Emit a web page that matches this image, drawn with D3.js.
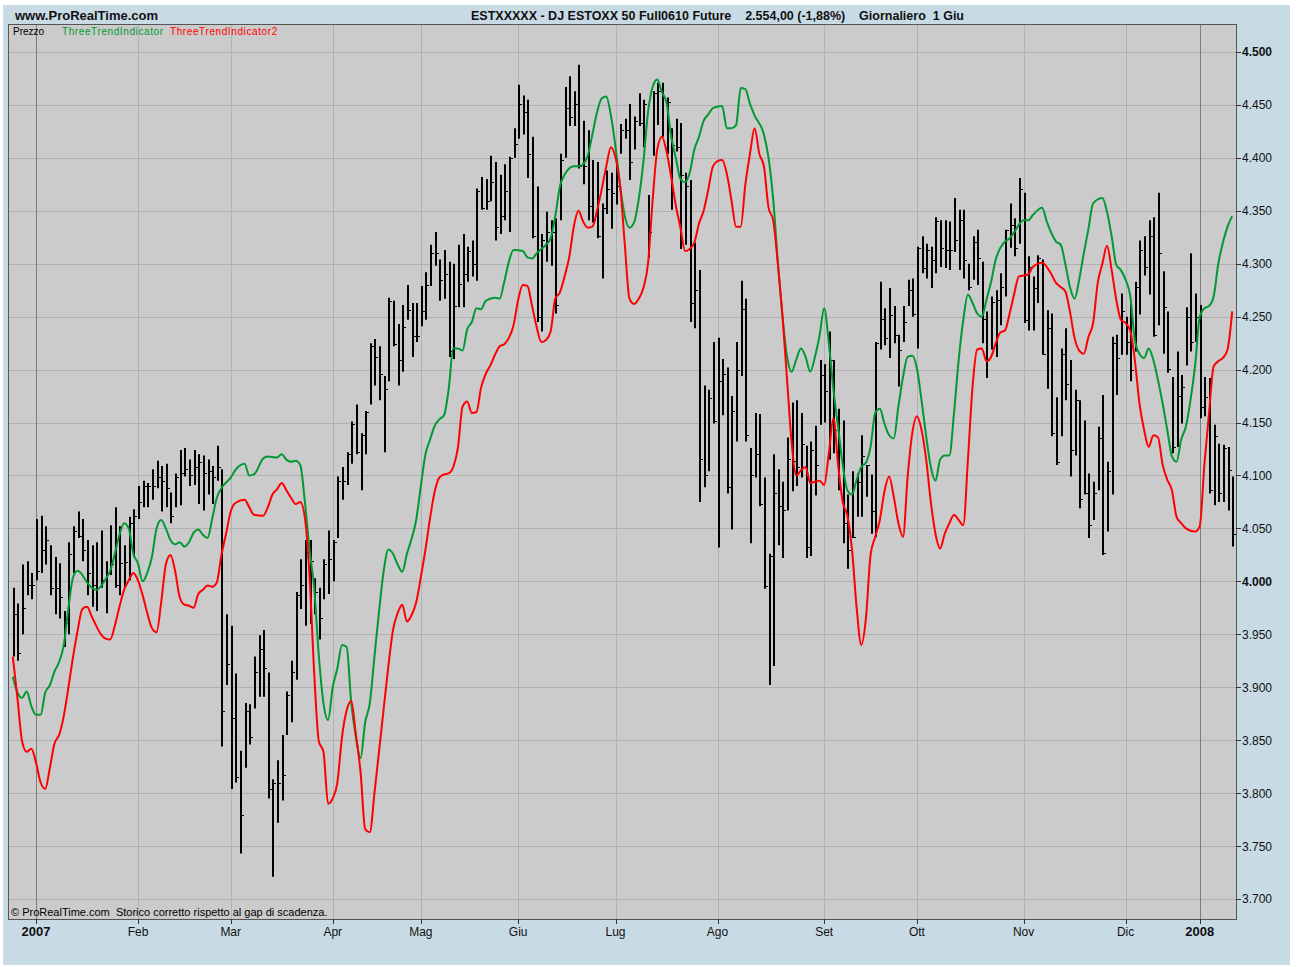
<!DOCTYPE html>
<html>
<head>
<meta charset="utf-8">
<style>
body { margin: 0; background: #fff; }
svg text { font-family: "Liberation Sans", Arial, sans-serif; }
</style>
</head>
<body>
<svg id="chart" width="1298" height="967"></svg>
<script src="https://cdn.jsdelivr.net/npm/d3@7"></script>
<script>
// trading days per month: Dec 2006 tail, Jan..Dec 2007, Jan 2008 head
const monthDays = [5, 22, 20, 22, 19, 21, 21, 22, 23, 20, 23, 22, 16, 8];
const monthLabels = ['2007', 'Feb', 'Mar', 'Apr', 'Mag', 'Giu', 'Lug', 'Ago', 'Set', 'Ott', 'Nov', 'Dic', '2008'];
const yearLabels = ['2007', '2008'];

const highs = [
  3994,3979,4016,4019,4008,4059,4062,4052,4034,4023,4017,3972,4037,4052,4066,4059,4039,4034,4037,4048,
  4019,4053,4070,4052,4034,4061,4068,4090,4095,4093,4106,4114,4109,4111,4084,4102,4124,4126,4115,4124,
  4120,4119,4115,4109,4128,4106,3969,3958,3913,3840,3885,3884,3929,3949,3954,3914,3813,3831,3855,3896,
  3925,3990,4021,4039,4039,4003,3994,4021,4048,4039,4099,4108,4122,4151,4167,4140,4161,4225,4229,4222,
  4194,4268,4265,4243,4261,4280,4263,4263,4279,4292,4318,4330,4304,4313,4302,4300,4318,4328,4316,4322,
  4371,4382,4380,4402,4396,4384,4394,4401,4428,4469,4459,4455,4420,4373,4328,4349,4341,4343,4404,4467,
  4477,4463,4488,4435,4426,4398,4396,4357,4388,4386,4396,4432,4437,4451,4439,4461,4455,4365,4463,4471,
  4471,4457,4428,4437,4433,4386,4379,4320,4294,4185,4181,4226,4230,4210,4202,4175,4226,4284,4267,4126,
  4159,4158,4098,4026,4120,4106,4094,4136,4169,4171,4159,4128,4132,4147,4209,4205,4236,4209,4163,4152,
  4082,4104,4102,4138,4110,4101,4226,4283,4258,4277,4260,4233,4260,4285,4286,4316,4326,4319,4316,4344,
  4341,4341,4340,4362,4351,4351,4300,4326,4332,4302,4255,4269,4275,4291,4332,4357,4343,4381,4367,4307,
  4288,4308,4304,4256,4253,4174,4220,4239,4209,4181,4171,4152,4102,4094,4146,4176,4113,4231,4233,4272,
  4250,4266,4283,4322,4326,4341,4344,4367,4293,4255,4193,4217,4195,4259,4310,4272,4261,4193,4192,4148,
  4130,4129,4127,4099
];
const lows = [
  3929,3925,3950,3987,3983,4001,4008,4016,3987,3969,3965,3938,3950,4008,4041,4019,3987,3976,3972,3994,
  3970,4006,3994,3987,3994,4001,4023,4059,4070,4070,4077,4088,4066,4070,4055,4070,4072,4099,4090,4091,
  4073,4067,4082,4073,4095,3844,3902,3804,3810,3743,3824,3846,3880,3891,3891,3795,3721,3772,3793,3855,
  3867,3907,3974,3958,3960,3969,3945,3983,3988,4000,4041,4077,4091,4111,4120,4086,4120,4167,4185,4171,
  4122,4189,4222,4185,4198,4247,4212,4226,4241,4247,4279,4298,4265,4267,4212,4210,4259,4259,4283,4288,
  4284,4351,4351,4359,4322,4328,4341,4330,4400,4418,4422,4381,4324,4245,4236,4302,4298,4253,4341,4400,
  4430,4430,4390,4375,4341,4339,4324,4286,4347,4333,4356,4404,4418,4379,4408,4430,4410,4306,4402,4431,
  4420,4404,4351,4406,4314,4318,4245,4239,4075,4089,4104,4149,4032,4157,4083,4049,4132,4194,4132,4036,
  4098,4071,3993,3902,3920,4034,4022,4067,4085,4090,4098,4022,4024,4081,4148,4150,4115,4121,4086,4036,
  4012,4041,4061,4061,4080,4045,4042,4219,4223,4211,4225,4184,4226,4260,4250,4220,4291,4286,4277,4291,
  4297,4296,4294,4311,4294,4286,4275,4285,4280,4225,4192,4219,4212,4242,4269,4315,4307,4319,4244,4237,
  4237,4263,4214,4182,4137,4110,4137,4171,4099,4119,4069,4082,4041,4058,4086,4025,4047,4082,4176,4214,
  4214,4189,4217,4252,4289,4271,4231,4242,4215,4197,4121,4127,4149,4204,4217,4226,4154,4156,4083,4072,
  4075,4075,4067,4033
];
const closes = [
  3969,3932,3975,3997,3997,4010,4030,4039,3994,3994,3985,3961,4026,4048,4043,4030,4008,3997,3994,4001,
  4008,4016,3997,4017,4018,4055,4062,4075,4090,4090,4090,4099,4095,4088,4062,4099,4102,4106,4100,4108,
  4113,4102,4104,4099,4108,3878,3922,3871,3815,3779,3878,3853,3914,3936,3918,3804,3810,3810,3817,3893,
  3914,3987,3997,4023,4019,3990,3965,4016,4021,4037,4095,4095,4120,4149,4122,4138,4160,4222,4212,4196,
  4182,4265,4224,4209,4240,4256,4232,4232,4255,4280,4310,4310,4285,4290,4218,4260,4281,4290,4312,4300,
  4369,4353,4359,4377,4335,4345,4369,4400,4413,4451,4443,4404,4326,4250,4322,4330,4330,4261,4398,4447,
  4439,4451,4392,4392,4355,4341,4326,4353,4371,4367,4373,4426,4426,4396,4435,4433,4451,4330,4461,4463,
  4457,4453,4412,4410,4384,4373,4263,4275,4116,4100,4173,4151,4189,4196,4089,4161,4200,4257,4138,4100,
  4120,4073,3996,4024,4083,4071,4067,4116,4114,4108,4130,4032,4124,4110,4195,4180,4209,4143,4121,4055,
  4030,4042,4094,4118,4110,4066,4225,4248,4230,4252,4233,4219,4245,4275,4253,4315,4296,4313,4304,4340,
  4315,4313,4313,4322,4341,4304,4278,4321,4305,4248,4209,4264,4266,4278,4332,4337,4315,4371,4247,4297,
  4277,4305,4215,4239,4140,4113,4215,4186,4124,4171,4078,4083,4053,4083,4135,4027,4104,4225,4211,4255,
  4226,4200,4278,4313,4297,4326,4233,4310,4259,4201,4127,4175,4184,4250,4226,4250,4165,4174,4086,4137,
  4083,4126,4105,4045
];

// ThreeTrendIndicator (green) as [bar index, value]
const trendGreen = [
  [0,3910],[1,3895],[2,3890],[3,3896],[4,3882],[5,3874],[6,3874],[7,3895],[8,3902],[9,3915],[10,3924],
  [11,3940],[12,3975],[13,4004],[14,4010],[15,4006],[16,3999],[18,3992],[20,4002],[21,4010],[22,4026],
  [23,4044],[24,4055],[25,4050],[26,4026],[27,4017],[28,4000],[29,4008],[30,4023],[31,4050],[32,4058],
  [33,4050],[34,4039],[35,4035],[36,4037],[37,4033],[38,4037],[39,4046],[40,4049],[41,4044],[42,4041],
  [43,4059],[44,4079],[45,4088],[47,4098],[48,4105],[50,4111],[51,4100],[52,4101],[54,4116],[55,4118],
  [57,4117],[58,4120],[59,4115],[60,4113],[61,4114],[62,4110],[63,4075],[64,4030],[65,3994],[66,3930],
  [67,3885],[68,3869],[69,3900],[70,3918],[71,3940],[72,3938],[73,3885],[74,3853],[75,3833],[76,3867],
  [77,3885],[78,3929],[79,3972],[80,4010],[81,4030],[82,4026],[83,4016],[84,4009],[85,4026],[86,4040],
  [87,4058],[88,4090],[89,4120],[90,4134],[91,4147],[92,4153],[93,4157],[94,4181],[95,4220],[96,4220],
  [97,4218],[98,4238],[99,4245],[100,4258],[101,4257],[102,4265],[104,4268],[105,4267],[106,4283],
  [107,4302],[108,4313],[110,4312],[111,4306],[112,4305],[113,4310],[115,4318],[116,4324],[117,4345],
  [118,4373],[119,4384],[121,4392],[122,4392],[123,4394],[124,4402],[125,4422],[126,4443],[127,4456],
  [128,4458],[129,4440],[130,4410],[131,4373],[132,4345],[133,4334],[134,4339],[135,4361],[136,4396],
  [137,4443],[138,4467],[139,4474],[140,4462],[141,4452],[142,4420],[143,4400],[144,4380],[145,4377],
  [146,4386],[147,4408],[148,4420],[149,4435],[150,4441],[151,4447],[153,4449],[154,4428],[155,4428],
  [156,4431],[157,4466],[158,4465],[159,4451],[160,4440],[162,4422],[163,4400],[164,4361],[165,4302],
  [166,4251],[167,4212],[168,4198],[169,4210],[170,4220],[171,4212],[172,4198],[173,4212],[174,4232],
  [175,4258],[176,4225],[177,4181],[178,4146],[179,4110],[180,4086],[181,4082],[182,4096],[183,4108],
  [184,4112],[185,4127],[186,4159],[187,4163],[188,4149],[189,4138],[190,4135],[191,4165],[192,4193],
  [193,4212],[194,4213],[195,4201],[196,4171],[197,4137],[198,4108],[199,4095],[200,4115],[201,4119],
  [202,4119],[203,4159],[204,4209],[205,4247],[206,4271],[207,4263],[208,4253],[209,4250],[210,4266],
  [211,4283],[212,4304],[213,4315],[214,4321],[215,4324],[216,4330],[218,4341],[219,4341],[220,4346],
  [222,4353],[223,4340],[224,4329],[225,4321],[226,4318],[227,4300],[228,4278],[229,4267],[230,4285],
  [231,4310],[232,4333],[233,4357],[235,4362],[236,4349],[237,4326],[238,4299],[239,4294],[240,4285],
  [241,4270],[242,4228],[243,4215],[244,4211],[245,4220],[246,4209],[247,4190],[248,4168],[249,4143],
  [250,4118],[251,4113],[252,4134],[253,4146],[254,4171],[255,4204],[256,4250],[257,4258],[258,4260],
  [259,4269],[260,4300],[261,4320],[262,4335],[263,4345]
];

// ThreeTrendIndicator2 (red) as [bar index, value]
const trendRed = [
  [0,3929],[1,3890],[2,3849],[3,3839],[4,3842],[5,3829],[6,3810],[7,3804],[8,3824],[9,3847],[10,3855],
  [11,3873],[12,3900],[13,3929],[14,3954],[15,3974],[16,3976],[17,3967],[18,3958],[19,3950],[20,3946],
  [21,3945],[22,3958],[23,3976],[24,3992],[25,4001],[26,4008],[27,4001],[28,3987],[29,3970],[30,3956],
  [31,3952],[32,3980],[33,4016],[34,4025],[35,4010],[36,3985],[37,3978],[38,3977],[39,3975],[40,3988],
  [41,3992],[42,3996],[43,3995],[44,3999],[45,4025],[46,4045],[47,4066],[48,4074],[50,4077],[51,4070],
  [52,4063],[54,4062],[55,4070],[56,4082],[57,4087],[58,4093],[59,4086],[60,4079],[61,4073],[62,4075],
  [63,4060],[64,4005],[65,3914],[66,3849],[67,3839],[68,3790],[69,3795],[70,3810],[71,3853],[72,3878],
  [73,3887],[74,3855],[75,3820],[76,3766],[77,3763],[78,3800],[79,3840],[80,3880],[81,3920],[82,3954],
  [83,3970],[84,3978],[85,3962],[86,3968],[87,3980],[88,4004],[89,4030],[90,4060],[91,4085],[92,4098],
  [93,4101],[94,4102],[95,4108],[96,4126],[97,4165],[98,4170],[99,4159],[100,4160],[101,4183],[102,4196],
  [103,4204],[104,4214],[105,4222],[106,4224],[107,4230],[108,4242],[109,4266],[110,4280],[111,4279],
  [112,4260],[113,4240],[114,4226],[115,4228],[116,4236],[117,4267],[118,4273],[119,4288],[120,4306],
  [121,4335],[122,4350],[123,4340],[124,4334],[125,4335],[126,4350],[127,4370],[128,4392],[129,4410],
  [130,4400],[131,4373],[132,4318],[133,4267],[134,4262],[135,4267],[136,4277],[137,4300],[138,4360],
  [139,4408],[140,4420],[141,4406],[142,4382],[143,4355],[144,4334],[145,4312],[146,4314],[147,4320],
  [148,4338],[149,4350],[150,4370],[151,4392],[152,4397],[153,4398],[154,4385],[155,4360],[156,4335],
  [157,4335],[158,4375],[159,4404],[160,4428],[161,4404],[162,4392],[163,4353],[164,4341],[165,4300],
  [166,4251],[167,4190],[168,4130],[169,4100],[170,4105],[171,4108],[172,4093],[173,4094],[174,4095],
  [175,4091],[176,4121],[177,4154],[178,4110],[179,4075],[180,4062],[181,4030],[182,3975],[183,3940],
  [184,3965],[185,4025],[186,4042],[187,4058],[188,4085],[189,4099],[190,4080],[191,4055],[192,4042],
  [193,4099],[194,4140],[195,4156],[196,4143],[197,4115],[198,4075],[199,4045],[200,4031],[201,4045],
  [202,4055],[203,4063],[204,4058],[205,4053],[206,4115],[207,4184],[208,4219],[209,4220],[210,4208],
  [211,4212],[212,4225],[213,4235],[214,4237],[215,4253],[216,4272],[217,4288],[219,4290],[220,4297],
  [222,4301],[224,4290],[225,4282],[226,4278],[227,4274],[228,4255],[229,4230],[230,4218],[231,4215],
  [232,4231],[233,4244],[234,4282],[235,4300],[236,4317],[237,4294],[238,4266],[239,4247],[240,4244],
  [241,4237],[242,4209],[243,4168],[244,4143],[245,4127],[246,4138],[247,4136],[248,4110],[249,4096],
  [250,4086],[251,4061],[252,4055],[253,4050],[255,4047],[256,4052],[257,4110],[258,4159],[259,4203],
  [260,4208],[261,4211],[262,4219],[263,4255]
];

const priceTicks = d3.range(3700, 4501, 50);
const boldTicks = [4000, 4500];

const bars = highs.map((h, i) => ({ i: i, high: h, low: lows[i], close: closes[i] }));

const width = 1298;
const height = 967;
const plot = { left: 9, right: 1236, top: 25, bottom: 919 };

const svg = d3.select('#chart');

// outer panel
svg.append('rect')
    .attr('x', 3).attr('y', 5)
    .attr('width', 1287).attr('height', 960)
    .attr('fill', '#c8dbe5');

const x = d3.scaleLinear()
    .domain([-0.82, bars.length - 1 + 0.82])
    .range([plot.left, plot.right]);

const y = d3.scaleLinear()
    .domain([3681.1, 4525.5])
    .range([plot.bottom, plot.top]);

// month ticks (first trading day of each month)
const starts = d3.cumsum(monthDays);
const tickIdx = monthLabels.map((d, k) => starts[k]);

const fmt = d3.formatLocale({ decimal: ',', thousands: '.', grouping: [3], currency: ['', ''] }).format(',d');

svg.append('rect')
    .attr('x', plot.left).attr('y', plot.top)
    .attr('width', plot.right - plot.left).attr('height', plot.bottom - plot.top)
    .attr('fill', '#cbcbcb');

const grid = svg.append('g');
grid.selectAll('line.h')
    .data(priceTicks)
    .join('line')
    .attr('x1', plot.left).attr('x2', plot.right)
    .attr('y1', d => Math.round(y(d)) + 0.5).attr('y2', d => Math.round(y(d)) + 0.5)
    .attr('stroke', '#b1b1b1');
grid.selectAll('line.v')
    .data(tickIdx)
    .join('line')
    .attr('x1', d => Math.round(x(d)) + 0.5).attr('x2', d => Math.round(x(d)) + 0.5)
    .attr('y1', plot.top).attr('y2', plot.bottom)
    .attr('stroke', (d, k) => yearLabels.includes(monthLabels[k]) ? '#7d7d7d' : '#b1b1b1');

// legend
const legend = svg.append('g').attr('font-size', 10).attr('letter-spacing', 0.6);
legend.append('text').attr('x', 13).attr('y', 35).attr('fill', '#000').attr('letter-spacing', 0).text('Prezzo');
legend.append('text').attr('x', 62).attr('y', 35).attr('fill', '#009933').text('ThreeTrendIndicator');
legend.append('text').attr('x', 170).attr('y', 35).attr('fill', '#ff0000').text('ThreeTrendIndicator2');

// price bars
const barG = svg.append('g');
barG.selectAll('line.bar')
    .data(bars)
    .join('line')
    .attr('x1', d => Math.round(x(d.i)) + 1).attr('x2', d => Math.round(x(d.i)) + 1)
    .attr('y1', d => y(d.high)).attr('y2', d => y(d.low))
    .attr('stroke', '#000').attr('stroke-width', 2);
barG.selectAll('line.close')
    .data(bars)
    .join('line')
    .attr('x1', d => Math.round(x(d.i)) + 2).attr('x2', d => Math.round(x(d.i)) + 4)
    .attr('y1', d => Math.round(y(d.close)) + 0.5).attr('y2', d => Math.round(y(d.close)) + 0.5)
    .attr('stroke', '#000').attr('stroke-width', 1);

const line = d3.line()
    .x(d => x(d[0]))
    .y(d => y(d[1]))
    .curve(d3.curveMonotoneX);

svg.append('path')
    .datum(trendGreen)
    .attr('d', line)
    .attr('fill', 'none')
    .attr('stroke', '#009933')
    .attr('stroke-width', 2);

svg.append('path')
    .datum(trendRed)
    .attr('d', line)
    .attr('fill', 'none')
    .attr('stroke', '#ff0000')
    .attr('stroke-width', 2);

// copyright
svg.append('text')
    .attr('x', 11).attr('y', 916)
    .attr('font-size', 11)
    .attr('fill', '#000')
    .text('\u00a9 ProRealTime.com  Storico corretto rispetto al gap di scadenza.')
    .attr('xml:space', 'preserve');

// frame
svg.append('rect')
    .attr('x', plot.left - 0.5).attr('y', plot.top - 0.5)
    .attr('width', plot.right - plot.left + 1).attr('height', plot.bottom - plot.top + 1)
    .attr('fill', 'none')
    .attr('stroke', '#555');

// y axis
const yAxis = svg.append('g');
yAxis.selectAll('line')
    .data(priceTicks)
    .join('line')
    .attr('x1', plot.right).attr('x2', plot.right + 5)
    .attr('y1', d => Math.round(y(d)) + 0.5).attr('y2', d => Math.round(y(d)) + 0.5)
    .attr('stroke', '#333');
yAxis.selectAll('text')
    .data(priceTicks)
    .join('text')
    .attr('x', plot.right + 6)
    .attr('y', d => y(d) + 4.5)
    .attr('font-size', 12)
    .attr('font-weight', d => boldTicks.includes(d) ? 'bold' : 'normal')
    .attr('fill', '#111')
    .text(d => fmt(d));

// x axis
const xAxis = svg.append('g');
xAxis.selectAll('line')
    .data(tickIdx)
    .join('line')
    .attr('x1', d => Math.round(x(d)) + 0.5).attr('x2', d => Math.round(x(d)) + 0.5)
    .attr('y1', plot.bottom).attr('y2', plot.bottom + 5)
    .attr('stroke', '#333');
xAxis.selectAll('text')
    .data(tickIdx)
    .join('text')
    .attr('x', d => x(d))
    .attr('y', 936)
    .attr('text-anchor', 'middle')
    .attr('font-size', (d, k) => yearLabels.includes(monthLabels[k]) ? 13 : 12)
    .attr('font-weight', (d, k) => yearLabels.includes(monthLabels[k]) ? 'bold' : 'normal')
    .attr('fill', '#111')
    .text((d, k) => monthLabels[k]);

// header
svg.append('text')
    .attr('x', 15).attr('y', 20)
    .attr('font-size', 13).attr('font-weight', 'bold')
    .attr('fill', '#111')
    .text('www.ProRealTime.com');
svg.append('text')
    .attr('x', 471).attr('y', 20)
    .attr('font-size', 12.5).attr('font-weight', 'bold')
    .attr('fill', '#111')
    .attr('xml:space', 'preserve')
    .text('ESTXXXXX - DJ ESTOXX 50 Full0610 Future    2.554,00 (-1,88%)    Giornaliero  1 Giu');
</script>
</body>
</html>
